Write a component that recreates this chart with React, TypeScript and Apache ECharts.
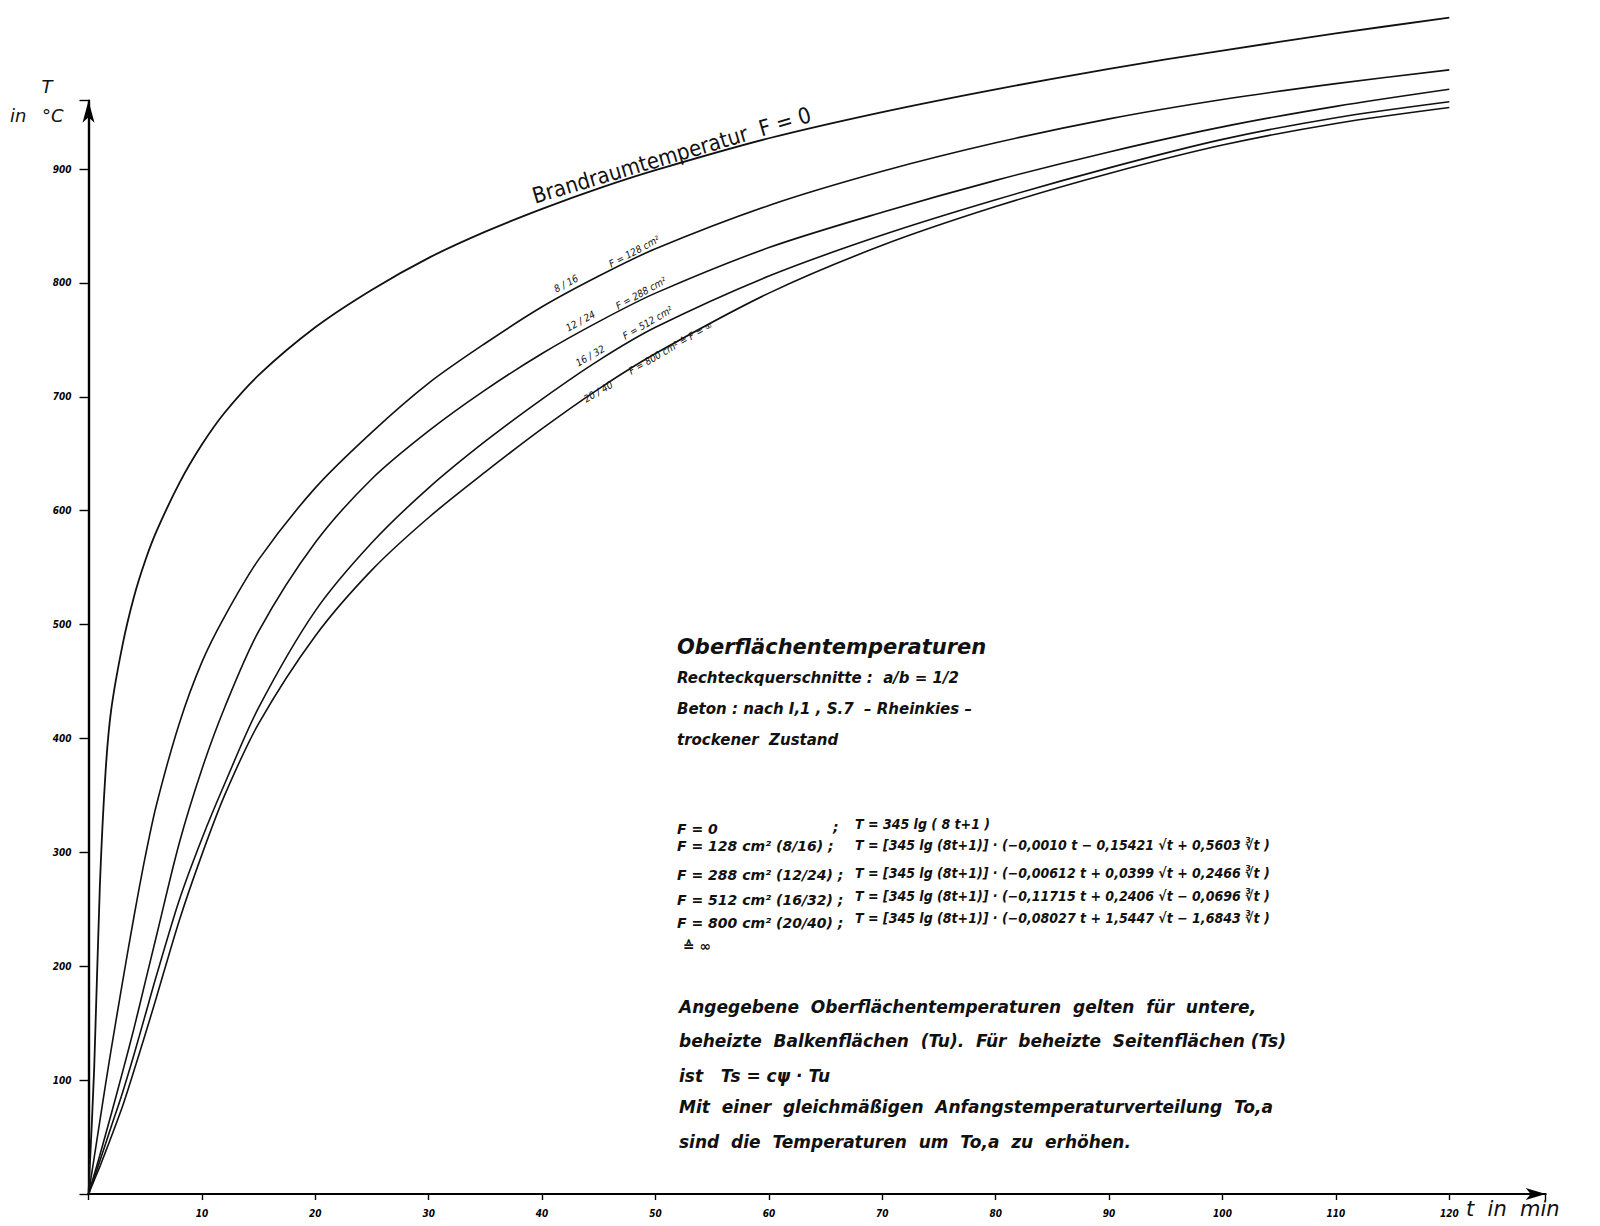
import React, { useEffect, useRef } from 'react';
import * as echarts from 'echarts';

// time in minutes (x) – shared sample points
const TIMES = [0, 0.5, 1, 1.5, 2, 3, 4, 5, 6, 8, 10, 12, 15, 20, 25, 30, 35, 40, 45, 50, 60, 70, 80, 90, 100, 110, 120];

// temperatures in °C
const T_F0 = [0, 110, 270, 370, 425, 482, 524, 556, 582, 624, 658, 686, 719, 761, 794, 822, 845, 865, 883, 899, 927, 950, 970, 988, 1004, 1019, 1033];
const T_F128 = [0, 32, 64, 96, 127, 186, 243, 296, 342, 413, 467, 507, 557, 620, 669, 712, 747, 779, 806, 830, 868, 898, 923, 944, 961, 975, 987];
const T_F288 = [0, 17, 34, 52, 70, 107, 145, 186, 227, 308, 373, 427, 494, 572, 628, 670, 706, 738, 766, 791, 831, 862, 890, 915, 937, 955, 970];
const T_F512 = [0, 14, 29, 44, 59, 89, 122, 157, 192, 258, 312, 360, 427, 512, 572, 620, 661, 698, 732, 761, 806, 842, 873, 901, 926, 945, 959];
const T_F800 = [0, 12, 24, 37, 50, 77, 108, 140, 173, 240, 298, 350, 413, 490, 548, 594, 634, 672, 707, 738, 791, 833, 867, 896, 921, 940, 954];

const SERIES_NAMES = ['F = 0', 'F = 128 cm²', 'F = 288 cm²', 'F = 512 cm²', 'F = 800 cm²'];
const SERIES_VALUES = [T_F0, T_F128, T_F288, T_F512, T_F800];

const X_TICKS = [10, 20, 30, 40, 50, 60, 70, 80, 90, 100, 110, 120];
const Y_TICKS = [100, 200, 300, 400, 500, 600, 700, 800, 900];
const X_MAX = 128.5;
const Y_MAX = 960;

const FORMULA_LEFT = ['F = 0', 'F = 128 cm² (8/16) ;', 'F = 288 cm² (12/24) ;', 'F = 512 cm² (16/32) ;', 'F = 800 cm² (20/40) ;', '≙ ∞'];
const FORMULA_RIGHT = [
  'T = 345 lg ( 8 t+1 )',
  'T = [345 lg (8t+1)] · (−0,0010 t − 0,15421 √t + 0,5603 ∛t )',
  'T = [345 lg (8t+1)] · (−0,00612 t + 0,0399 √t + 0,2466 ∛t )',
  'T = [345 lg (8t+1)] · (−0,11715 t + 0,2406 √t − 0,0696 ∛t )',
  'T = [345 lg (8t+1)] · (−0,08027 t + 1,5447 √t − 1,6843 ∛t )',
];
const HEADER_LINES = ['Oberflächentemperaturen', 'Rechteckquerschnitte :  a/b = 1/2', 'Beton : nach I,1 , S.7  – Rheinkies –', 'trockener  Zustand'];
const NOTE_LINES = [
  'Angegebene  Oberflächentemperaturen  gelten  für  untere,',
  'beheizte  Balkenflächen  (Tu).  Für  beheizte  Seitenflächen (Ts)',
  'ist   Ts = cψ · Tu',
  'Mit  einer  gleichmäßigen  Anfangstemperaturverteilung  To,a',
  'sind  die  Temperaturen  um  To,a  zu  erhöhen.',
];
const CURVE_LABELS = [
  { a: '8 / 16', b: 'F = 128 cm²' },
  { a: '12 / 24', b: 'F = 288 cm²' },
  { a: '16 / 32', b: 'F = 512 cm²' },
  { a: '20 / 40', b: 'F = 800 cm² ≙ F = ∞' },
];

const FONT = '"DejaVu Sans", sans-serif';
const FONT_C = '"DejaVu Sans Condensed", "DejaVu Sans", sans-serif';
const INK = '#111';

function txt(text: string, x: number, baseline: number, size: number, opts: any = {}) {
  return {
    type: 'text',
    x,
    y: baseline - size * 0.36,
    rotation: opts.rotation || 0,
    z: 100,
    silent: true,
    style: {
      text,
      fill: INK,
      fontSize: size,
      fontFamily: opts.family || FONT,
      fontStyle: opts.italic === false ? 'normal' : 'italic',
      fontWeight: opts.bold ? 'bold' : 'normal',
      align: opts.align || 'left',
      verticalAlign: 'middle',
    },
  };
}

function rotLabel(text: string, x: number, y: number, deg: number, size = 10) {
  return {
    type: 'text',
    x,
    y,
    rotation: (deg * Math.PI) / 180,
    z: 100,
    silent: true,
    style: {
      text,
      fill: INK,
      fontSize: size,
      fontFamily: FONT_C,
      fontStyle: 'italic',
      align: 'left',
      verticalAlign: 'bottom',
    },
  };
}

export default function App() {
  const ref = useRef<HTMLDivElement>(null);

  useEffect(() => {
    document.body.style.margin = '0';
    const chart = echarts.init(ref.current!, undefined, { renderer: 'svg' });

    const graphics: any[] = [];
    // axis titles
    graphics.push(txt('T', 47, 93, 18, { align: 'center' }));
    graphics.push(txt('in', 10, 122, 18));
    graphics.push(txt('°C', 42, 122, 18));
    graphics.push(txt('t  in  min', 1466, 1217, 21));

    // curve labels
    graphics.push({
      type: 'text', x: 536, y: 207, rotation: (16.5 * Math.PI) / 180, z: 100, silent: true,
      style: { text: 'Brandraumtemperatur  F = 0', fill: INK, fontSize: 22, fontFamily: FONT_C, align: 'left', verticalAlign: 'bottom' },
    });
    const labelPos = [
      { ax: 557, ay: 294, bx: 612, by: 269, deg: 28 },
      { ax: 569, ay: 333, bx: 619, by: 311, deg: 29 },
      { ax: 579, ay: 368, bx: 626, by: 341, deg: 30 },
      { ax: 587, ay: 404, bx: 632, by: 376, deg: 30 },
    ];
    CURVE_LABELS.forEach((l, i) => {
      const p = labelPos[i];
      graphics.push(rotLabel(l.a, p.ax, p.ay, p.deg));
      graphics.push(rotLabel(l.b, p.bx, p.by, p.deg));
    });

    // header block
    graphics.push(txt(HEADER_LINES[0], 677, 655, 21, { bold: true }));
    graphics.push(txt(HEADER_LINES[1], 677, 683, 15, { bold: true }));
    graphics.push(txt(HEADER_LINES[2], 677, 714, 15, { bold: true }));
    graphics.push(txt(HEADER_LINES[3], 677, 745, 15, { bold: true }));

    // formulas
    const leftBase = [834, 851, 880, 905, 928, 951];
    FORMULA_LEFT.forEach((s, i) => {
      graphics.push(txt(s, i === 5 ? 683 : 677, leftBase[i], 14, { bold: true }));
    });
    graphics.push(txt(';', 833, 832, 14, { bold: true }));
    const rightBase = [829, 850, 878, 901, 923];
    FORMULA_RIGHT.forEach((s, i) => {
      graphics.push(txt(s, 855, rightBase[i], 14, { bold: true, family: FONT_C }));
    });

    // notes
    const noteBase = [1013, 1047, 1082, 1113, 1148];
    NOTE_LINES.forEach((s, i) => {
      graphics.push(txt(s, 679, noteBase[i], 17, { bold: true, family: FONT }));
    });

    const option: any = {
      animation: false,
      backgroundColor: '#ffffff',
      grid: { left: 88.5, right: 1600 - (88.5 + 11.34 * X_MAX), top: 1194 - Y_MAX * (1025 / 900), bottom: 32, containLabel: false },
      xAxis: {
        type: 'value',
        min: 0,
        max: X_MAX,
        interval: 10,
        axisLine: {
          show: true,
          symbol: ['none', 'arrow'],
          symbolSize: [9, 20],
          lineStyle: { color: '#000', width: 2.2 },
        },
        axisTick: { show: true, length: 6, lineStyle: { color: '#000', width: 1.4 } },
        axisLabel: {
          margin: 14,
          color: '#000',
          fontSize: 10,
          fontFamily: FONT_C,
          fontStyle: 'italic',
          fontWeight: 'bold',
          formatter: (v: number) => (X_TICKS.indexOf(v) >= 0 ? String(v) : ''),
        },
        splitLine: { show: false },
      },
      yAxis: {
        type: 'value',
        min: 0,
        max: Y_MAX,
        interval: 100,
        axisLine: {
          show: true,
          symbol: ['none', 'arrow'],
          symbolSize: [9, 22],
          lineStyle: { color: '#000', width: 2.4 },
        },
        axisTick: { show: true, length: 9, lineStyle: { color: '#000', width: 1.4 } },
        axisLabel: {
          margin: 17,
          color: '#000',
          fontSize: 10,
          fontFamily: FONT_C,
          fontStyle: 'italic',
          fontWeight: 'bold',
          formatter: (v: number) => (Y_TICKS.indexOf(v) >= 0 ? String(v) : ''),
        },
        splitLine: { show: false },
      },
      series: SERIES_VALUES.map((vals, i) => ({
        name: SERIES_NAMES[i],
        type: 'line',
        data: TIMES.map((t, j) => [t, vals[j]]),
        showSymbol: false,
        smooth: 0.3,
        clip: false,
        silent: true,
        lineStyle: { color: INK, width: i === 0 ? 1.8 : 1.6 },
      })),
      graphic: graphics,
    };

    chart.setOption(option);
    return () => chart.dispose();
  }, []);

  return <div ref={ref} style={{ width: 1600, height: 1226 }} />;
}
